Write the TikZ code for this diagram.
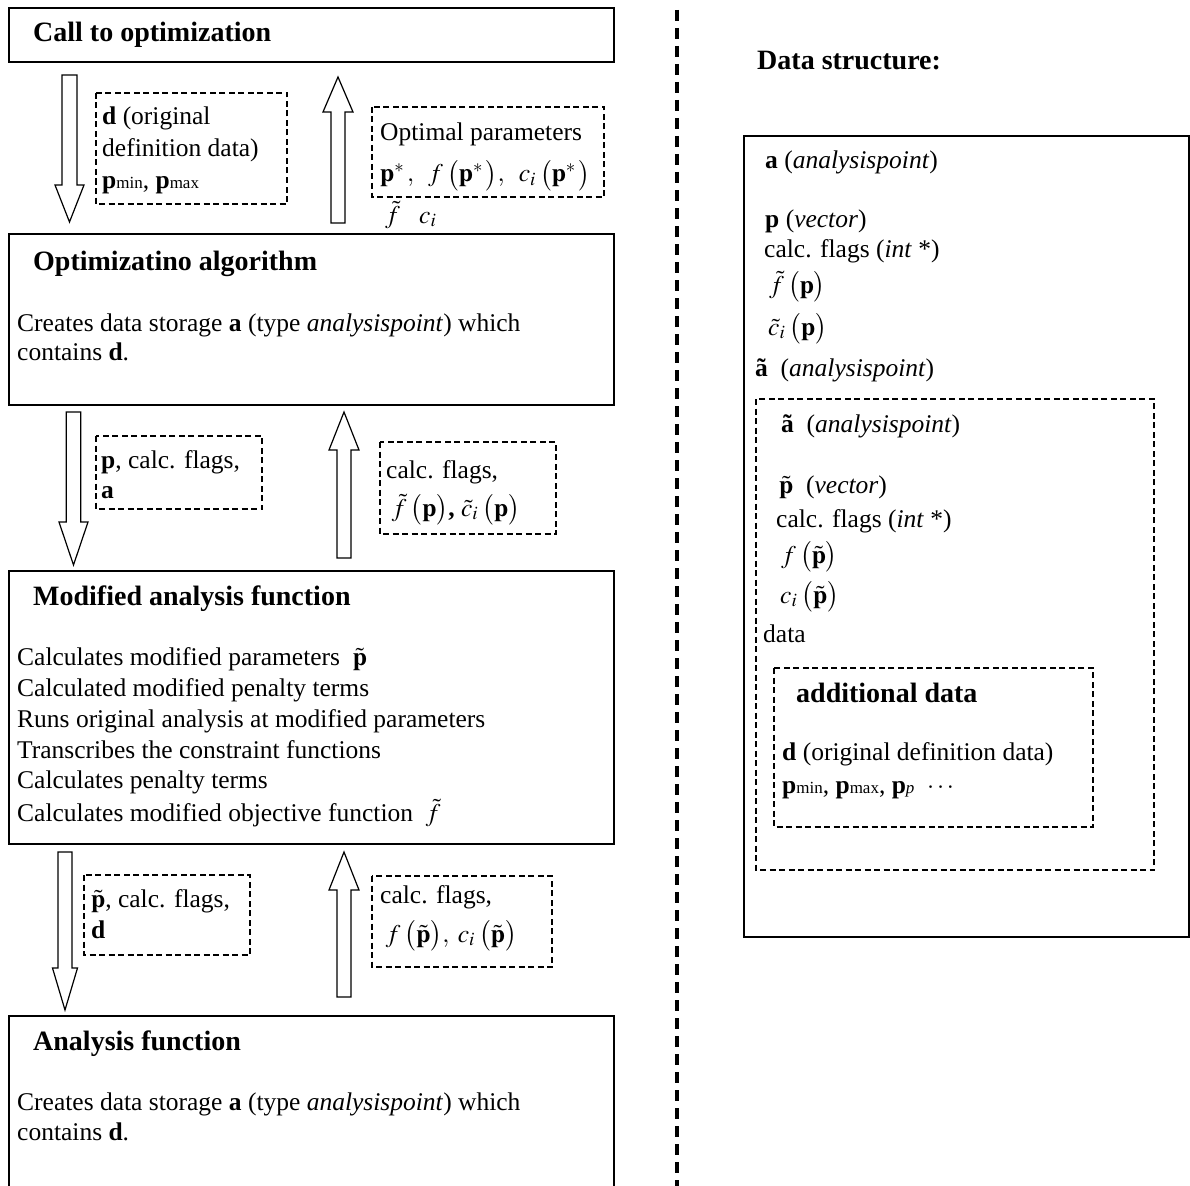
\documentclass[tikz,border=0pt]{standalone}
\usepackage{mathptmx}
\usepackage{fontspec}
\setmainfont{Liberation Serif}
\usepackage{graphicx}
\newcommand{\blkarrow}[6]{% cx, shaft half, head half, base y, head base y, tip y
  \draw[blk] ({#1-#2},#4) -- ({#1+#2},#4) -- ({#1+#2},#5) -- ({#1+#3},#5) -- (#1,#6) -- ({#1-#3},#5) -- ({#1-#2},#5) -- cycle;}
\newcommand{\sml}[1]{{\fontsize{17}{17}\selectfont #1}}
\newcommand{\lpar}{\mskip3mu\bigl(}
\newcommand{\rpar}{\bigr)}
\begin{document}
\begin{tikzpicture}[x=1pt,y=-1pt,
  box/.style={draw, line width=1.5pt},
  dbox/.style={draw, line width=2.6pt, dash pattern=on 6pt off 3.5pt},
  txt/.style={anchor=base west, inner sep=0pt, text height=17pt, text depth=5pt, font=\fontsize{25.5}{30}\selectfont},
  ttl/.style={anchor=base west, inner sep=0pt, text height=18pt, text depth=5pt, font=\fontsize{28}{32}\selectfont\bfseries},
  blk/.style={draw, line width=1.2pt, fill=white, line join=miter}]
\useasboundingbox[fill=white] (0,0) rectangle (1190,1185);

% ---------- left column ----------
\draw[box] (9,8) rectangle (614,62);
\node[ttl] (t1) at (33,42) {Call to optimization};

\blkarrow{69.5}{7.5}{14.5}{75}{185}{222}
\blkarrow{338}{7}{15}{223}{112}{77}

\draw[dbox] (96,93) rectangle (287,204);
\node[txt] (d1) at (102,125) {\textbf{d} (original};
\node[txt] (d2) at (102,157) {definition data)};
\node[txt] (d3) at (102,188) {\textbf{p}\sml{min}, \textbf{p}\sml{max}};

\draw[dbox] (372,107) rectangle (604,197);
\node[txt] (o1) at (380,141) {Optimal parameters};
\node[txt] (o2) at (380,182) {$\mathbf{p}^{*}\,,\;\; f\lpar\mathbf{p}^{*}\,\rpar,\;\; c_i\lpar\mathbf{p}^{*}\,\rpar$};
\node[txt] (o3) at (385,223) {$\tilde{f}$};
\node[txt] (o4) at (419,223) {$c_i$};

\draw[box] (9,234) rectangle (614,405);
\node[ttl] (t2) at (33,270) {Optimizatino algorithm};
\node[txt] (b2a) at (17,331) {Creates data storage \textbf{a} (type \textit{analysispoint}) which};
\node[txt] (b2b) at (17,360) {contains \textbf{d}.};

\blkarrow{73.5}{7.3}{14.5}{412}{522}{565}
\blkarrow{344}{7}{15}{558}{450}{412}

\draw[dbox] (96,436) rectangle (262,509);
\node[txt] (a1) at (101,468) {\textbf{p}, calc. flags,};
\node[txt] (a2) at (101,498) {\textbf{a}};

\draw[dbox] (380,442) rectangle (556,534);
\node[txt] (c1) at (386,478) {calc. flags,};
\node[txt] (c2) at (386,516) {$\;\tilde{f}\lpar\mathbf{p}\rpar$\textbf{,} $\tilde{c}_i\lpar\mathbf{p}\rpar$};

\draw[box] (9,571) rectangle (614,844);
\node[ttl] (t3) at (33,605) {Modified analysis function};
\node[txt] (m1) at (17,665) {Calculates modified parameters~~$\tilde{\mathbf{p}}$};
\node[txt] (m2) at (17,696) {Calculated modified penalty terms};
\node[txt] (m3) at (17,727) {Runs original analysis at modified parameters};
\node[txt] (m4) at (17,758) {Transcribes the constraint functions};
\node[txt] (m5) at (17,788) {Calculates penalty terms};
\node[txt] (m6) at (17,821) {Calculates modified objective function~~$\tilde{f}$};

\blkarrow{65}{7}{12.5}{852}{968}{1010}
\blkarrow{344}{7}{15}{997}{890}{852}

\draw[dbox] (84,875) rectangle (250,955);
\node[txt] (e1) at (91,907) {$\tilde{\mathbf{p}}$, calc. flags,};
\node[txt] (e2) at (91,938) {\textbf{d}};

\draw[dbox] (372,876) rectangle (552,967);
\node[txt] (g1) at (380,903) {calc. flags,};
\node[txt] (g2) at (380,942) {$\;f\lpar\tilde{\mathbf{p}}\rpar,\; c_i\lpar\tilde{\mathbf{p}}\rpar$};

\draw[box] (9,1200) -- (9,1016) -- (614,1016) -- (614,1200);
\node[ttl] (t4) at (33,1050) {Analysis function};
\node[txt] (b4a) at (17,1110) {Creates data storage \textbf{a} (type \textit{analysispoint}) which};
\node[txt] (b4b) at (17,1140) {contains \textbf{d}.};

% ---------- separator ----------
\coordinate (sepA) at (677,10);
\coordinate (sepB) at (677,1190);
\draw[line width=3.5pt, dash pattern=on 11pt off 7pt] (sepA) -- (sepB);

% ---------- right column ----------
\node[ttl] (ds) at (757,70) {Data structure:};
\draw[box] (744,136) rectangle (1189,937);
\node[txt] (r1) at (765,169) {\textbf{a} (\textit{analysispoint})};
\node[txt] (r2) at (765,227) {\textbf{p} (\textit{vector})};
\node[txt] (r3) at (764,257) {calc. flags (\textit{int} *)};
\node[txt] (r4) at (769,293) {$\tilde{f}\lpar\mathbf{p}\rpar$};
\node[txt] (r5) at (768,335) {$\tilde{c}_i\lpar\mathbf{p}\rpar$};
\node[txt] (r6) at (755,376) {\textbf{ã}~~(\textit{analysispoint})};

\draw[dbox] (756,399) rectangle (1154,870);
\node[txt] (s1) at (781,432) {\textbf{ã}~~(\textit{analysispoint})};
\node[txt] (s2) at (779,493) {$\tilde{\mathbf{p}}$~~(\textit{vector})};
\node[txt] (s3) at (776,527) {calc. flags (\textit{int} *)};
\node[txt] (s4) at (781,563) {$f\lpar\tilde{\mathbf{p}}\rpar$};
\node[txt] (s5) at (780,603) {$c_i\lpar\tilde{\mathbf{p}}\rpar$};
\node[txt] (s6) at (763,642) {data};

\draw[dbox] (774,668) rectangle (1093,827);
\node[ttl] (ad) at (796,702) {additional data};
\node[txt] (ad1) at (782,760) {\textbf{d} (original definition data)};
\node[txt] (ad2) at (782,793) {\textbf{p}\sml{min}, \textbf{p}\sml{max}, \textbf{p}\sml{\itshape p}~~$\cdots$};
\end{tikzpicture}
\end{document}
